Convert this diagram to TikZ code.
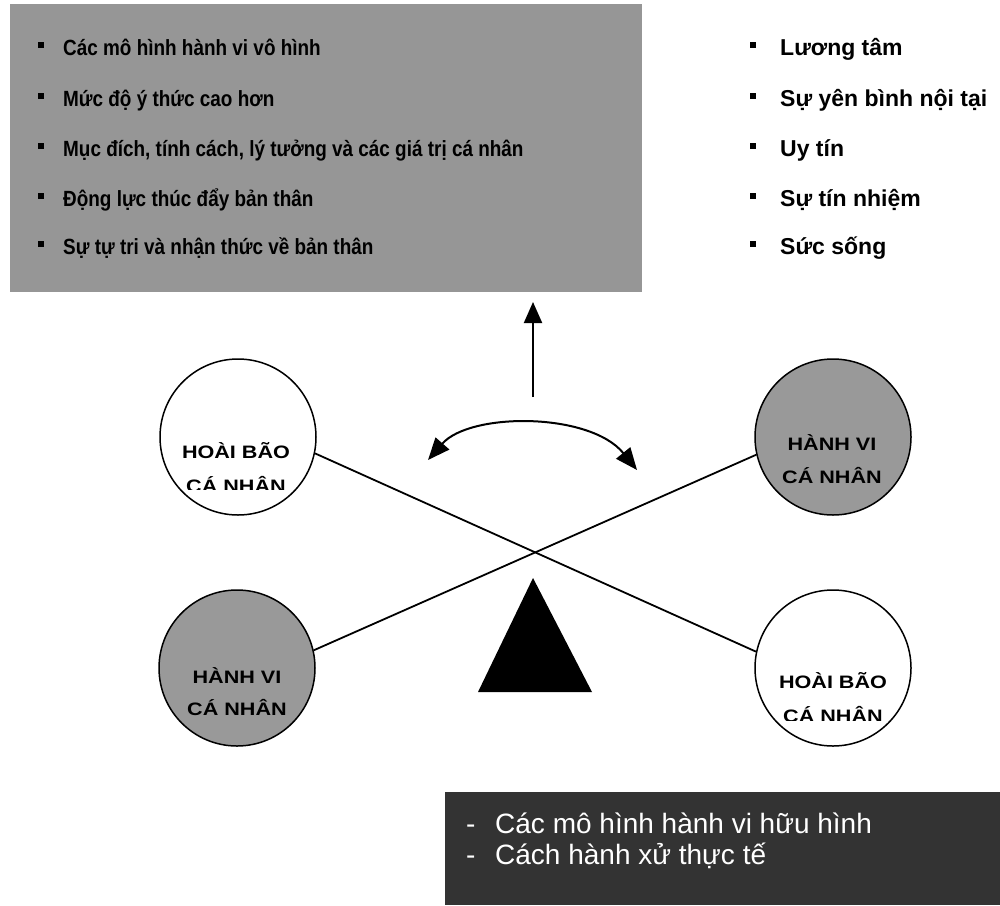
\documentclass[tikz,border=0pt]{standalone}
\usepackage{fontspec}
\setmainfont{Liberation Sans}
\newfontfamily\narrowsans[FakeStretch=0.86]{Liberation Sans}
\newfontfamily\widesans[FakeStretch=1.2]{Liberation Sans}
\usetikzlibrary{arrows.meta}
\definecolor{panelgray}{HTML}{969696}
\definecolor{discgray}{HTML}{999999}
\definecolor{panerdark}{HTML}{333333}
\newcommand{\sqbullet}{\raisebox{7pt}{\rule{6pt}{6pt}}}
\begin{document}
\begin{tikzpicture}[x=1pt,y=-1pt,
  panel/.style={rectangle, inner sep=0pt, outer sep=0pt, draw=none},
  itemleft/.style={anchor=base west, inner sep=0pt,
    font=\narrowsans\bfseries\fontsize{22}{26}\selectfont},
  itemright/.style={anchor=base west, inner sep=0pt,
    font=\bfseries\fontsize{23}{26}\selectfont},
  itemdark/.style={anchor=base west, inner sep=0pt, text=white,
    font=\fontsize{28}{32}\selectfont},
  disc/.style={circle, draw=black, line width=1.5pt, minimum size=156pt, inner sep=0pt},
  disctext/.style={anchor=base, inner sep=0pt,
    font=\widesans\bfseries\fontsize{18}{20}\selectfont},
  beam/.style={line width=1.8pt, draw=black},
  tipped/.style={line width=2pt, -{Triangle[length=21pt,width=18pt]}},
  twotipped/.style={line width=2pt, {Triangle[length=22pt,width=18pt]}-{Triangle[length=22pt,width=18pt]}}
]
\useasboundingbox (0,0) rectangle (1000,905);
\fill[white] (0,0) rectangle (1000,905);

% upper-left panel with its list
\node[panel, fill=panelgray, minimum width=632pt, minimum height=288pt] (innerpanel) at (326,148) {};
\node[itemleft] (l1) at (38,55)  {\makebox[25pt][l]{\sqbullet}Các mô hình hành vi vô hình};
\node[itemleft] (l2) at (38,106) {\makebox[25pt][l]{\sqbullet}Mức độ ý thức cao hơn};
\node[itemleft] (l3) at (38,156) {\makebox[25pt][l]{\sqbullet}Mục đích, tính cách, lý tưởng và các giá trị cá nhân};
\node[itemleft] (l4) at (38,206) {\makebox[25pt][l]{\sqbullet}Động lực thúc đẩy bản thân};
\node[itemleft] (l5) at (38,254) {\makebox[25pt][l]{\sqbullet}Sự tự tri và nhận thức về bản thân};

% upper-right list
\node[itemright] (r1) at (750,55)  {\makebox[30pt][l]{\sqbullet}Lương tâm};
\node[itemright] (r2) at (750,106) {\makebox[30pt][l]{\sqbullet}Sự yên bình nội tại};
\node[itemright] (r3) at (750,156) {\makebox[30pt][l]{\sqbullet}Uy tín};
\node[itemright] (r4) at (750,206) {\makebox[30pt][l]{\sqbullet}Sự tín nhiệm};
\node[itemright] (r5) at (750,254) {\makebox[30pt][l]{\sqbullet}Sức sống};

% lower-right dark panel
\node[panel, fill=panerdark, minimum width=555pt, minimum height=113pt] (outerpanel) at (722.5,848.5) {};
\node[itemdark] (d1) at (466,833) {\makebox[29pt][l]{-}Các mô hình hành vi hữu hình};
\node[itemdark] (d2) at (466,864) {\makebox[29pt][l]{-}Cách hành xử thực tế};

% the four discs
\node[disc, fill=white]    (tl) at (238,437) {};
\node[disc, fill=discgray] (tr) at (833,437) {};
\node[disc, fill=discgray] (bl) at (237,668) {};
\node[disc, fill=white]    (br) at (833,668) {};

% disc captions (lower line of the white discs is cut off)
\begin{scope}
  \clip (150,350) rectangle (330,489);
  \node[disctext] (tlcap1) at (236,458) {HOÀI BÃO};
  \node[disctext] (tlcap2) at (236,492) {CÁ NHÂN};
\end{scope}
\begin{scope}
  \clip (745,590) rectangle (925,720);
  \node[disctext] (brcap1) at (833,688) {HOÀI BÃO};
  \node[disctext] (brcap2) at (833,722) {CÁ NHÂN};
\end{scope}
\node[disctext] (trcap1) at (832,450) {HÀNH VI};
\node[disctext] (trcap2) at (832,483) {CÁ NHÂN};
\node[disctext] (blcap1) at (237,683) {HÀNH VI};
\node[disctext] (blcap2) at (237,715) {CÁ NHÂN};

% balance beams
\draw[beam] (tl.-12) -- (br.168);
\draw[beam] (bl.13) -- (tr.193);

% pivot
\fill[black] (533,578) -- (592,692) -- (478,692) -- cycle;

% upward arrow and swinging arrow
\coordinate (upfoot) at (533,397);
\coordinate (uptip) at (533,302);
\draw[tipped] (upfoot) -- (uptip);
\coordinate (swingleft) at (428,460);
\coordinate (swingright) at (637,470);
\draw[twotipped] (swingleft) .. controls (470,412) and (590,412) .. (swingright);
\end{tikzpicture}
\end{document}
